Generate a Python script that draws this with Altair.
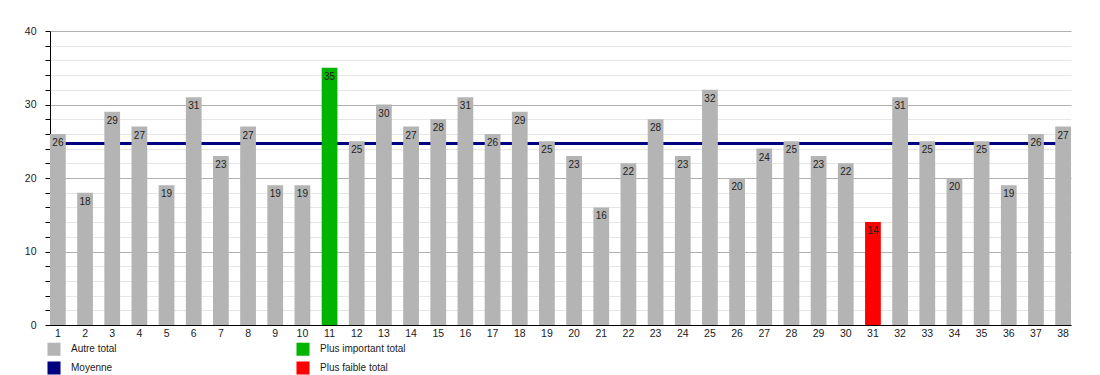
import altair as alt
import pandas as pd

categories = [str(i) for i in range(1, 39)]
values = [26, 18, 29, 27, 19, 31, 23, 27, 19, 19, 35, 25, 30, 27, 28, 31, 26, 29, 25,
          23, 16, 22, 28, 23, 32, 20, 24, 25, 23, 22, 14, 31, 25, 20, 25, 19, 26, 27]

legend_labels = ["Autre total", "Plus important total", "Moyenne", "Plus faible total"]
legend_colors = ["#b4b4b4", "#00b400", "#000080", "#ff0000"]
y_ticks = list(range(0, 41, 2))

vmax = max(values)
vmin = min(values)
groups = []
for v in values:
    if v == vmax:
        groups.append("Plus important total")
    elif v == vmin:
        groups.append("Plus faible total")
    else:
        groups.append("Autre total")

df = pd.DataFrame({"cat": categories, "value": values, "group": groups})
mean_val = sum(values) / len(values)
mean_df = pd.DataFrame({"value": [mean_val], "group": ["Moyenne"]})

FONT = "Liberation Sans"

xaxis = alt.Axis(labelAngle=0, ticks=False, domainColor="#000000",
                 labelColor="#1a1a1a", labelFont=FONT, labelFontSize=10.5,
                 labelPadding=3, grid=False)
xscale = alt.Scale(paddingInner=0.42, paddingOuter=0)

yscale = alt.Scale(domain=[0, 40], nice=False, zero=True)
yaxis = alt.Axis(values=y_ticks, title=None,
                 labelExpr="datum.value % 10 === 0 ? datum.label : ''",
                 domainColor="#000000", tickColor="#000000", tickSize=5,
                 labelColor="#1a1a1a", labelFont=FONT, labelFontSize=10.5, labelPadding=9,
                 gridColor=alt.condition("datum.value % 10 === 0", alt.value("#b0b0b0"), alt.value("#e6e6e6")),
                 gridWidth=1)

color = alt.Color("group:N", scale=alt.Scale(domain=legend_labels, range=legend_colors),
                  legend=alt.Legend(title=None, orient="none", legendX=-3, legendY=311,
                                    columns=2, columnPadding=179, rowPadding=5,
                                    symbolType="square", symbolSize=170, symbolStrokeWidth=0,
                                    labelFont=FONT, labelFontSize=10, labelColor="#1a1a1a",
                                    labelOffset=10, direction="horizontal"))

mean_rule = alt.Chart(mean_df).mark_rule(strokeWidth=3).encode(
    y=alt.Y("value:Q", scale=yscale, axis=yaxis),
    color=color,
)

bars = alt.Chart(df).mark_bar().encode(
    x=alt.X("cat:N", sort=categories, title=None, scale=xscale, axis=xaxis),
    y=alt.Y("value:Q", scale=yscale, axis=yaxis),
    color=color,
)

labels = alt.Chart(df).mark_text(baseline="top", dy=4, font=FONT, fontSize=10, color="#222222").encode(
    x=alt.X("cat:N", sort=categories, title=None, scale=xscale, axis=xaxis),
    y=alt.Y("value:Q", scale=yscale, axis=yaxis),
    text="value:Q",
)

chart = alt.layer(mean_rule, bars, labels).properties(
    width=1021, height=294,
    autosize=alt.AutoSizeParams(type="none"),
    padding={"left": 42, "top": 23, "right": 18, "bottom": 50},
).configure_view(stroke=None).configure_axis(domainWidth=1)

chart.save("out.html", embed_options={"renderer": "svg", "actions": False})
